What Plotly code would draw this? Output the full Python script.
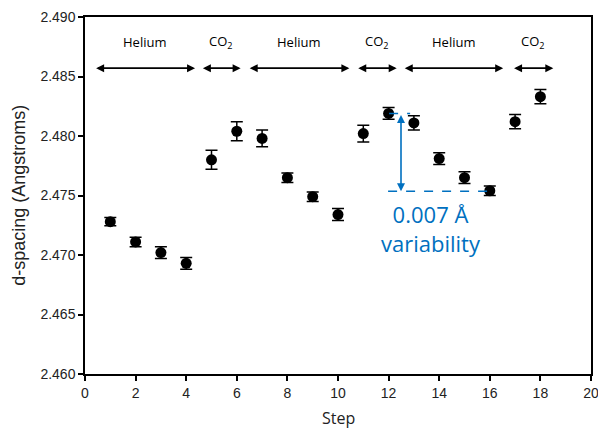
import plotly.graph_objects as go

steps = list(range(1, 19))
d_spacing = [2.4728, 2.4711, 2.4702, 2.4693, 2.4780, 2.4804, 2.4798, 2.4765, 2.4749,
             2.4734, 2.4802, 2.4819, 2.4811, 2.4781, 2.4765, 2.4754, 2.4812, 2.4833]
err = [0.00035, 0.0004, 0.0005, 0.0005, 0.0008, 0.0008, 0.0007, 0.0004, 0.0004,
       0.0005, 0.0007, 0.0005, 0.0006, 0.0005, 0.0005, 0.0004, 0.0006, 0.0006]

seg_labels = ["Helium", "CO<sub>2</sub>", "Helium", "CO<sub>2</sub>", "Helium", "CO<sub>2</sub>"]
seg_start = [0.38, 4.6, 6.45, 10.74, 12.58, 16.9]
seg_end = [4.35, 6.15, 10.45, 12.32, 16.53, 18.51]
arrow_y = 2.4857
label_y = 2.4879

var_x = 12.49
var_top = 2.4819
var_bottom = 2.47535
var_upper_dash = [12.02, 12.85]
var_lower_dash = [11.98, 15.93]
var_text = "0.007 Å<br>variability"
blue = "#0070C0"

fig = go.Figure()
fig.add_trace(go.Scatter(
    x=steps, y=d_spacing, mode="markers",
    marker=dict(color="black", size=11),
    error_y=dict(type="data", array=err, visible=True, color="black", thickness=1.5, width=6),
    showlegend=False, hoverinfo="skip", cliponaxis=False))

annotations = []
for lab, s, e in zip(seg_labels, seg_start, seg_end):
    annotations.append(dict(x=e, y=arrow_y, ax=s, ay=arrow_y, xref="x", yref="y", axref="x", ayref="y",
                            text="", showarrow=True, arrowhead=2, arrowside="end+start",
                            arrowsize=1, arrowwidth=1.6, arrowcolor="black", standoff=0, startstandoff=0))
    annotations.append(dict(x=(s + e) / 2, y=label_y, xref="x", yref="y", text=lab, showarrow=False,
                            font=dict(family="Open Sans", size=13, color="black")))

annotations.append(dict(x=var_x, y=var_bottom, ax=var_x, ay=var_top, xref="x", yref="y", axref="x", ayref="y",
                        text="", showarrow=True, arrowhead=2, arrowside="end+start",
                        arrowsize=1, arrowwidth=1.6, arrowcolor=blue, standoff=0, startstandoff=0))
annotations.append(dict(x=13.67, y=2.4722, xref="x", yref="y", text=var_text, showarrow=False,
                        font=dict(family="Open Sans", size=22, color=blue), align="center"))

annotations.append(dict(x=-0.132, y=0.5, xref="paper", yref="paper", text="d-spacing (Angstroms)",
                        textangle=-90, showarrow=False, xanchor="center", yanchor="middle",
                        font=dict(family="Liberation Sans", size=18, color="#222")))
annotations.append(dict(x=0.5, y=-0.16, xref="paper", yref="paper", text="Step",
                        showarrow=False, xanchor="center", yanchor="bottom",
                        font=dict(family="Open Sans", size=16, color="#222")))

shapes = [
    dict(type="line", x0=var_upper_dash[0], x1=var_upper_dash[1], y0=var_top, y1=var_top,
         xref="x", yref="y", line=dict(color=blue, width=1.5, dash="dash")),
    dict(type="line", x0=var_lower_dash[0], x1=var_lower_dash[1], y0=var_bottom, y1=var_bottom,
         xref="x", yref="y", line=dict(color=blue, width=1.5, dash="dash")),
]

axis_common = dict(showline=True, linecolor="black", linewidth=1.5, mirror=True,
                   ticks="outside", ticklen=5, tickwidth=1.5, tickcolor="black",
                   showgrid=False, zeroline=False, automargin=False, ticklabeloverflow="allow",
                   tickfont=dict(family="Liberation Sans", size=14, color="#222"))

fig.update_layout(
    width=598, height=432,
    margin=dict(l=85, r=7, t=17, b=58, autoexpand=False),
    plot_bgcolor="white", paper_bgcolor="white",
    xaxis=dict(range=[0, 20], dtick=2, tick0=0, **axis_common),
    yaxis=dict(range=[2.460, 2.490], dtick=0.005, tickformat=".3f", **axis_common),
    annotations=annotations, shapes=shapes,
)

fig.write_html("out.html")
